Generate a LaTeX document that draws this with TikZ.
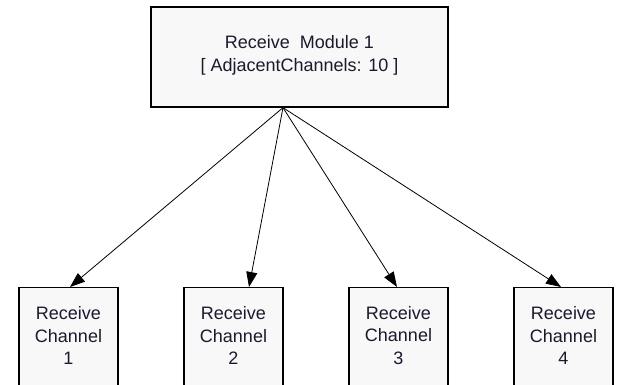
\documentclass[tikz,border=0pt]{standalone}
\usepackage{fontspec}
\setmainfont{Liberation Sans}
\usetikzlibrary{arrows.meta,calc}

\definecolor{boxfill}{HTML}{F8F8F8}
\definecolor{txtcol}{HTML}{1A1A2E}

\tikzset{
  unitbox/.style={draw=black, line width=1.3pt, fill=boxfill, rectangle, inner sep=0pt},
  boxtext/.style={align=center, font=\fontsize{18}{22.7}\selectfont, text=txtcol, inner sep=0pt},
  link/.style={draw=black, line width=0.8pt, -{Triangle[length=15pt,width=11pt]}}
}

\begin{document}
\begin{tikzpicture}[x=1pt, y=-1pt]
  \useasboundingbox (0,0) rectangle (619,385);
  \clip (0,0) rectangle (619,385);

  % module box
  \node[unitbox, minimum width=297pt, minimum height=100pt] (mod) at (299.5,57) {};
  \node[boxtext] (modtxt) at (299.5,55.5) {Receive\ \ Module 1\\ {[} AdjacentChannels: 10 {]}};

  % channel boxes (their lower edges run past the page)
  \foreach \i/\x in {1/68.5, 2/233.5, 3/398.5, 4/563.5} {
    \node[unitbox, minimum width=99pt, minimum height=130pt, anchor=north] (ch\i) at (\x,287) {};
    \node[boxtext] (cht\i) at (\x,335.5) {Receive\\Channel\\\i};
  }

  % links from the module to each channel
  \coordinate (src) at ($(mod.south)+(-16.5,0)$);
  \draw[link] (src) -- ($(ch1.north)+(1.5,0)$);
  \draw[link] (src) -- ($(ch2.north)+(15.5,0)$);
  \draw[link] (src) -- ($(ch3.north)+(-1.5,0)$);
  \draw[link] (src) -- ($(ch4.north)+(-2.5,0)$);
\end{tikzpicture}
\end{document}
